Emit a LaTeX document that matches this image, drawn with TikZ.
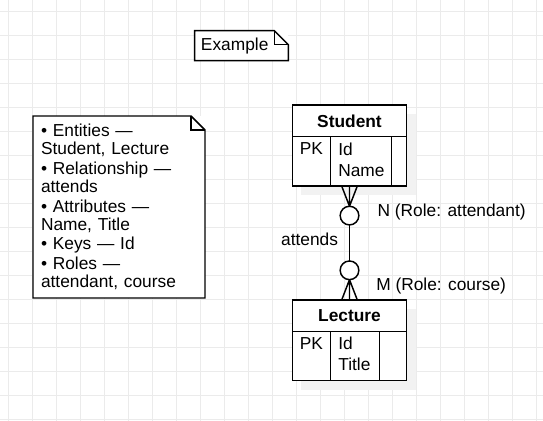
\documentclass[tikz,border=0pt]{standalone}
\usepackage{fontspec}
\setmainfont{Liberation Sans}
\usetikzlibrary{positioning,backgrounds}

\tikzset{
  gridline/.style={black!8, line width=0.75pt},
  tblhead/.style={draw, fill=white, line width=1.1pt, outer sep=0pt, inner sep=0pt,
    minimum width=85.8pt, minimum height=23.8pt, font=\fontsize{13}{15.75}\selectfont\bfseries},
  tblcell/.style={draw, fill=white, line width=1.1pt, outer sep=0pt, anchor=north west,
    inner xsep=5.7pt, inner ysep=0pt, align=left, font=\fontsize{13}{15.75}\selectfont},
  zerocircle/.style={draw, fill=white, circle, line width=1.1pt, outer sep=0pt,
    minimum size=14pt, inner sep=0pt},
  notebox/.style={fill=white, inner ysep=0pt, outer sep=0pt, align=left,
    font=\fontsize{13}{13.5}\selectfont},
  lbl/.style={inner sep=0pt, font=\fontsize{13}{15}\selectfont},
  conn/.style={line width=1.1pt},
  shade/.style={fill=black!5},
}

% outline of a note with a folded corner
\newcommand\notefold[1]{%
  \draw[conn] (#1.north west) -- ([shift={(-14,0)}]#1.north east)
    -- ([shift={(0,14)}]#1.north east) -- (#1.south east) -- (#1.south west) -- cycle;
  \draw[conn] ([shift={(-14,0)}]#1.north east) -- ([shift={(-14,14)}]#1.north east)
    -- ([shift={(0,14)}]#1.north east);
}
% extra depth so cell text sits near the top
\newcommand\celldepth{\rule[-3pt]{0pt}{0pt}}

\begin{document}
\begin{tikzpicture}[x=0.75pt, y=-0.75pt]
    \useasboundingbox (0,0) rectangle (543,421);

    \begin{scope}[on background layer]
        \fill[white] (0,0) rectangle (543,421);
        \foreach \gx in {0,...,22}
            \draw[gridline] (8.3+24*\gx,0) -- (8.3+24*\gx,421);
        \foreach \gy in {0,...,17}
            \draw[gridline] (0,11.7+24*\gy) -- (543,11.7+24*\gy);
    \end{scope}

    % notes
    \node[notebox, inner xsep=4.7pt, text width=60.8pt, minimum height=22.5pt] (example) at (241.5,45.7) {Example};
    \notefold{example}

    \node[notebox, inner xsep=6pt, text width=117pt, minimum height=136.5pt] (summary) at (119,207)
        {• Entities —\\Student, Lecture\\[1.2pt]
         • Relationship —\\attends\\[1.2pt]
         • Attributes —\\Name, Title\\[1.2pt]
         • Keys — Id\\[1.2pt]
         • Roles —\\attendant, course};
    \notefold{summary}

    % entity tables
    \node[tblhead] (student) at (349.5,120.85) {Student};
    \node[tblcell, text width=17.4pt, minimum height=37pt] (studentKey) at (student.south west) {PK\\\phantom{N}\celldepth};
    \node[tblcell, text width=34.35pt, minimum height=37pt] (studentAttr) at (studentKey.north east) {Id\\Name\celldepth};
    \node[tblcell, inner sep=0pt, minimum width=11.25pt, minimum height=37pt] (studentPad) at (studentAttr.north east) {};

    \node[tblhead] (lecture) at (349.5,315.85) {Lecture};
    \node[tblcell, text width=17.4pt, minimum height=36.75pt] (lectureKey) at (lecture.south west) {PK\\\phantom{T}\celldepth};
    \node[tblcell, text width=25.05pt, minimum height=36.75pt] (lectureAttr) at (lectureKey.north east) {Id\\Title\celldepth};
    \node[tblcell, inner sep=0pt, minimum width=20.55pt, minimum height=36.75pt] (lecturePad) at (lectureAttr.north east) {};

    \begin{scope}[on background layer]
        \fill[shade] ([shift={(9,9)}]student.north west) rectangle ([shift={(9,9)}]studentPad.south east);
        \fill[shade] ([shift={(9,9)}]lecture.north west) rectangle ([shift={(9,9)}]lecturePad.south east);
    \end{scope}

    % relationship
    \coordinate (studentFoot) at (student.south |- studentKey.south);
    \coordinate (lectureFoot) at (lecture.north);

    \node[zerocircle] (attendant) at (349.5,215.6) {};
    \node[zerocircle] (course) at (349.5,270.3) {};

    \draw[conn] (attendant.north) -- ([shift={(-7.8,0)}]studentFoot)
                (attendant.north) -- (studentFoot)
                (attendant.north) -- ([shift={(7.8,0)}]studentFoot);
    \draw[conn] (attendant) -- (course);
    \draw[conn] (course.south) -- ([shift={(-7.8,0)}]lectureFoot)
                (course.south) -- (lectureFoot)
                (course.south) -- ([shift={(7.8,0)}]lectureFoot);

    \node[lbl, anchor=base west] (attendantRole) at (377.3,216) {N (Role: attendant)};
    \node[lbl, anchor=base west] (courseRole) at (376,290) {M (Role: course)};
    \node[lbl, anchor=base east] (attendsLabel) at (338.3,245) {attends};
\end{tikzpicture}
\end{document}
